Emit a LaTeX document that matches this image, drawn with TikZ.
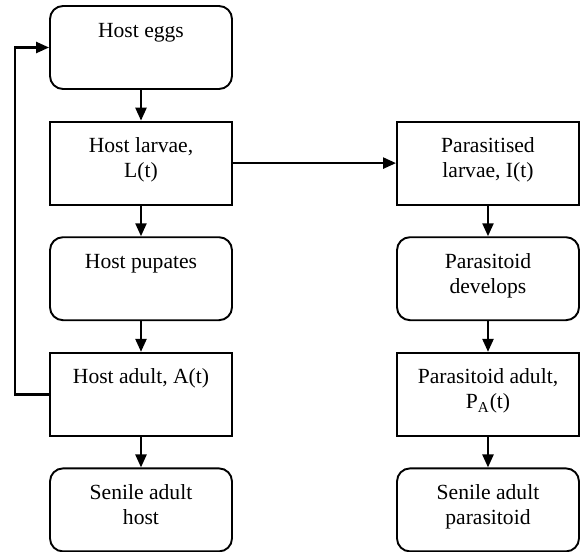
\documentclass[tikz,border=0pt]{standalone}
\usepackage{fontspec}
\setmainfont{Liberation Serif}
\usetikzlibrary{arrows.meta}

\newcommand{\stagetext}[1]{\parbox[c][41.5pt][t]{91pt}{\centering\rule{0pt}{15.5pt}#1}}

\begin{document}
\begin{tikzpicture}[>={Triangle[length=6.5pt,width=5.5pt]},node distance=57.8pt,
  every node/.style={inner sep=0pt,font=\fontsize{10.8pt}{12.5pt}\selectfont},
  sqbox/.style={draw,line width=0.95pt},
  rdbox/.style={sqbox,rounded corners=6.5pt},
  flow/.style={->,line width=1.2pt}]
  \useasboundingbox (0,0) rectangle (293pt,-276pt);

  \node[rdbox] (eggs) at (70.5pt,-23.75pt) {\stagetext{Host eggs}};
  \node[sqbox] (larvae)    [below of=eggs]    {\stagetext{Host larvae,\\ L(t)}};
  \node[rdbox] (pupates)   [below of=larvae]  {\stagetext{Host pupates}};
  \node[sqbox] (adult)     [below of=pupates] {\stagetext{Host adult, A(t)}};
  \node[rdbox] (senhost)   [below of=adult]   {\stagetext{Senile adult\\ host}};

  \node[sqbox] (parlarvae) [node distance=173.5pt,right of=larvae] {\stagetext{Parasitised\\ larvae, I(t)}};
  \node[rdbox] (develops)  [below of=parlarvae] {\stagetext{Parasitoid\\ develops}};
  \node[sqbox] (paradult)  [below of=develops]  {\stagetext{Parasitoid adult,\\ P\textsubscript{A}(t)}};
  \node[rdbox] (senpara)   [below of=paradult]  {\stagetext{Senile adult\\ parasitoid}};

  \path[flow] (eggs)    edge (larvae);
  \path[flow] (larvae)  edge (pupates);
  \path[flow] (pupates) edge (adult);
  \path[flow] (adult)   edge (senhost);
  \path[flow] (larvae)  edge (parlarvae);
  \path[flow] (parlarvae) edge (develops);
  \path[flow] (develops)  edge (paradult);
  \path[flow] (paradult)  edge (senpara);
  \draw[flow] (adult.west) -- ++(-17pt,0) |- (eggs.west);
\end{tikzpicture}
\end{document}
